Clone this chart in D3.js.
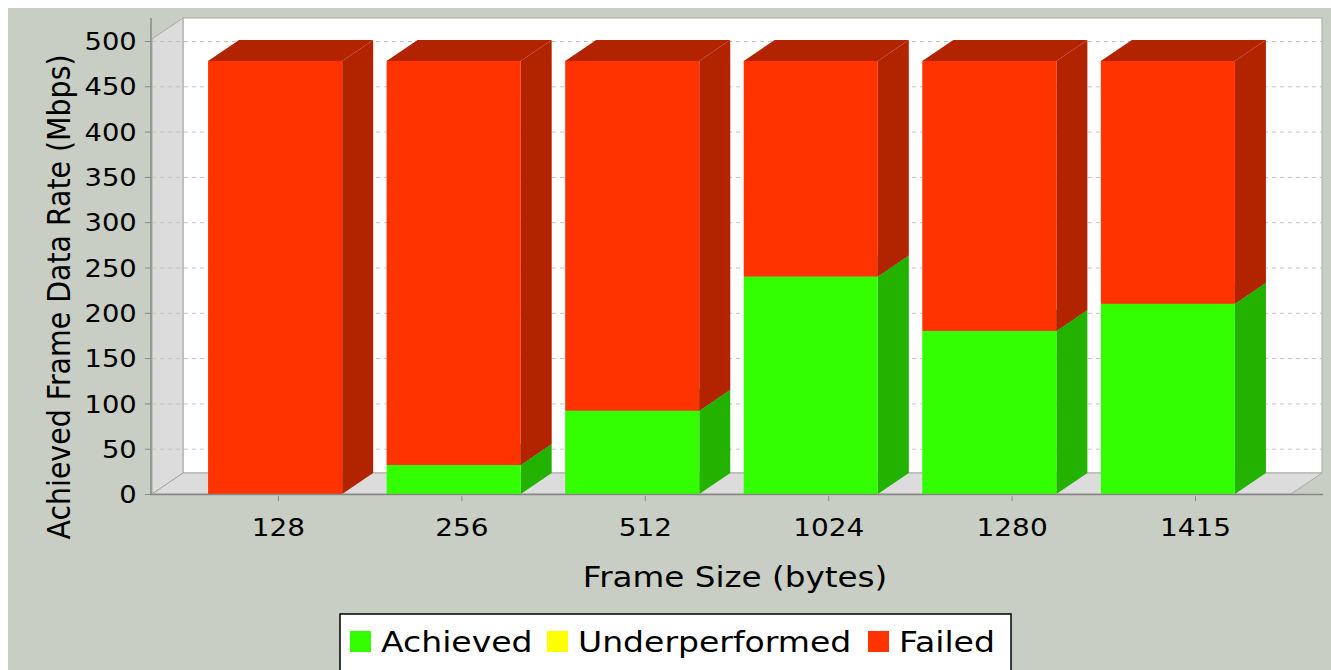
<!DOCTYPE html>
<html>
<head>
<meta charset="utf-8">
<script src="https://cdn.jsdelivr.net/npm/d3@7"></script>
<style>
  html, body { margin: 0; padding: 0; background: #ffffff; }
  svg { display: block; }
  text { font-family: "DejaVu Sans", sans-serif; fill: #000; }
</style>
</head>
<body>
<svg id="chart" width="1331" height="670"></svg>
<script>
// ---- data ----
const categories = ["128", "256", "512", "1024", "1280", "1415"];
const achieved = [0, 32, 92, 240, 180, 210];
const underperformed = [0, 0, 0, 0, 0, 0];
const failed = [478, 446, 386, 238, 298, 268];
const yTicks = [0, 50, 100, 150, 200, 250, 300, 350, 400, 450, 500];
const seriesNames = ["Achieved", "Underperformed", "Failed"];
const xTitle = "Frame Size (bytes)";
const yTitle = "Achieved Frame Data Rate (Mbps)";

// ---- styles ----
const frontColors = ["#33ff00", "#ffff00", "#ff3300"];
const sideColors = ["#23b200", "#b2b200", "#b22300"];
const SX = 1.14; // horizontal glyph stretch of the original picture
const DX = 31, DY = 21; // 3D depth offsets

const svg = d3.select("#chart");

// background
svg.append("rect").attr("x", 0).attr("y", 0).attr("width", 1331).attr("height", 670).attr("fill", "#ffffff");
svg.append("rect").attr("x", 8).attr("y", 8).attr("width", 1323).attr("height", 662).attr("fill", "#c9cec4");

// scales
const y = d3.scaleLinear().domain([0, 500]).range([494, 41]);
const xBar = d3.scaleBand().domain(categories).range([152, 1291]).paddingInner(0.249).paddingOuter(0.314);
const xTick = d3.scaleBand().domain(categories).range([152, 1322]).paddingInner(0.249).paddingOuter(0.314);

const left = 152, right = 1291, y0 = y(0), yTop = 18 + DY;

// back wall
svg.append("rect").attr("x", left + DX).attr("y", yTop - DY).attr("width", right - left).attr("height", y0 - yTop)
  .attr("fill", "#ffffff").attr("stroke", "#a8a8a8").attr("stroke-width", 1);
// left wall
svg.append("path")
  .attr("d", `M${left},${y0} L${left},${yTop} L${left + DX},${yTop - DY} L${left + DX},${y0 - DY} Z`)
  .attr("fill", "#dcdcdc").attr("stroke", "#a8a8a8").attr("stroke-width", 1);
// floor
svg.append("path")
  .attr("d", `M${left},${y0} L${left + DX},${y0 - DY} L${right + DX},${y0 - DY} L${right},${y0} Z`)
  .attr("fill", "#dcdcdc").attr("stroke", "#a8a8a8").attr("stroke-width", 1);

// gridlines
svg.append("g").selectAll("line").data(yTicks.filter(v => v > 0)).join("line")
  .attr("x1", left).attr("x2", right + DX)
  .attr("y1", d => y(d) + 0.5).attr("y2", d => y(d) + 0.5)
  .attr("stroke", "#c4c4c4").attr("stroke-width", 1).attr("stroke-dasharray", "4,4");

// stacked data
const table = categories.map((c, i) => ({ cat: c, vals: [achieved[i], underperformed[i], failed[i]] }));
const segs = [];
table.forEach(row => {
  let base = 0;
  row.vals.forEach((v, s) => {
    if (v > 0) segs.push({ cat: row.cat, s, lo: base, hi: base + v });
    base += v;
  });
});

const bars = svg.append("g");
segs.forEach(d => {
  const x0 = xBar(d.cat), x1 = x0 + xBar.bandwidth();
  const yl = y(d.lo), yh = y(d.hi);
  // top face
  bars.append("path")
    .attr("d", `M${x0},${yh} L${x0 + DX},${yh - DY} L${x1 + DX},${yh - DY} L${x1},${yh} Z`)
    .attr("fill", sideColors[d.s]);
  // side face
  bars.append("path")
    .attr("d", `M${x1},${yl} L${x1},${yh} L${x1 + DX},${yh - DY} L${x1 + DX},${yl - DY} Z`)
    .attr("fill", sideColors[d.s]);
  // front face
  bars.append("rect").attr("x", x0).attr("y", yh).attr("width", x1 - x0).attr("height", yl - yh)
    .attr("fill", frontColors[d.s]);
});

// axes
const yAxisG = svg.append("g").attr("transform", `translate(151,0)`)
  .call(d3.axisLeft(y).tickValues(yTicks).tickSize(6).tickFormat(d3.format("d")));
yAxisG.select(".domain").remove();
yAxisG.selectAll(".tick line").attr("stroke", "#888888");
yAxisG.selectAll(".tick text").attr("x", -12.5).attr("dy", "0.36em")
  .attr("transform", `scale(${SX},1)`).style("font-size", "24px").style("font-family", "DejaVu Sans");
svg.append("line").attr("x1", 151).attr("x2", 151).attr("y1", 18).attr("y2", y0 + 0.5)
  .attr("stroke", "#888888").attr("stroke-width", 1.5);

const xAxisG = svg.append("g").attr("transform", `translate(0,${y0})`)
  .call(d3.axisBottom(xTick).tickSize(5));
xAxisG.select(".domain").remove();
xAxisG.selectAll(".tick line").attr("stroke", "#888888").attr("y1", 2).attr("y2", 7);
xAxisG.selectAll(".tick text").attr("y", 42).attr("dy", 0)
  .attr("transform", `scale(${SX},1)`).style("font-size", "24.5px").style("font-family", "DejaVu Sans");
svg.append("line").attr("x1", 150).attr("x2", right + DX + 1).attr("y1", y0 + 0.5).attr("y2", y0 + 0.5)
  .attr("stroke", "#888888").attr("stroke-width", 1.5);

// axis titles
svg.append("text").attr("transform", `translate(735,587) scale(${SX},1)`)
  .attr("text-anchor", "middle").style("font-size", "28.6px").text(xTitle);
svg.append("text").attr("transform", `translate(70,297) rotate(-90) scale(1,${SX})`)
  .attr("text-anchor", "middle").style("font-size", "28.4px").text(yTitle);

// legend
const lg = svg.append("g");
lg.append("rect").attr("x", 340).attr("y", 614).attr("width", 671).attr("height", 58)
  .attr("fill", "#ffffff").attr("stroke", "#000000").attr("stroke-width", 1.5);
const legendX = [350, 547, 868];
seriesNames.forEach((n, i) => {
  lg.append("rect").attr("x", legendX[i]).attr("y", 631).attr("width", 21).attr("height", 21)
    .attr("fill", frontColors[i]);
  lg.append("text").attr("transform", `translate(${legendX[i] + 31},652) scale(${SX},1)`)
    .style("font-size", "29px").text(n);
});
</script>
</body>
</html>
